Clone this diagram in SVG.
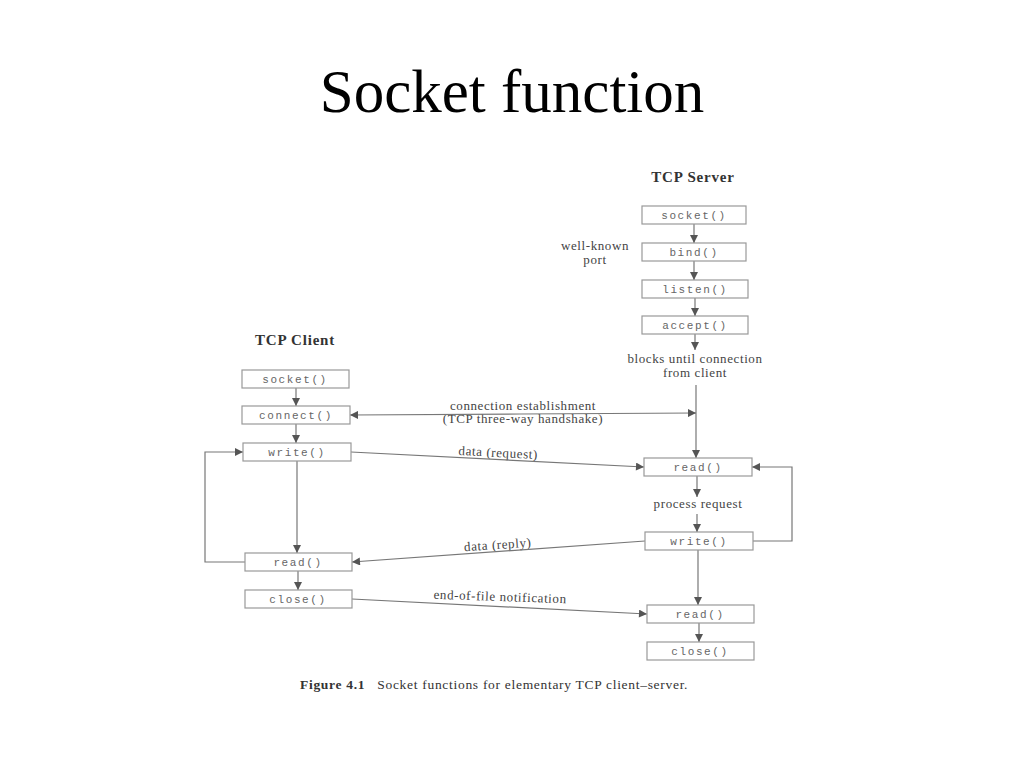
<svg xmlns="http://www.w3.org/2000/svg" width="1024" height="768" viewBox="0 0 1024 768">
<style>
.b{fill:#fff;stroke:#999;stroke-width:1.2}
.m{font-family:"Liberation Mono",monospace;font-size:11px;letter-spacing:1.6px;fill:#666;text-anchor:middle}
.s{font-family:"Liberation Serif",serif;font-size:13px;letter-spacing:0.6px;fill:#444;text-anchor:middle}
.h{font-family:"Liberation Serif",serif;font-size:15px;letter-spacing:0.8px;font-weight:bold;fill:#333;text-anchor:middle}
.c line,.c polyline{stroke:#777;stroke-width:1.2;fill:none}
</style>
<defs><marker id="a" viewBox="0 0 10 10" refX="10" refY="5" markerWidth="10" markerHeight="8" orient="auto" markerUnits="userSpaceOnUse"><path d="M0,0L10,5L0,10z" fill="#555"/></marker></defs>
<rect width="1024" height="768" fill="#fff"/>
<text x="512" y="112" font-family="Liberation Serif,serif" font-size="61" text-anchor="middle">Socket function</text>
<text class="h" x="693" y="182">TCP Server</text>
<text class="h" x="295" y="345">TCP Client</text>
<text class="s" x="595" y="250">well-known</text>
<text class="s" x="595" y="264">port</text>
<text class="s" x="695" y="363">blocks until connection</text>
<text class="s" x="695" y="377">from client</text>
<text class="s" x="523" y="410">connection establishment</text>
<text class="s" x="523" y="423">(TCP three-way handshake)</text>
<text class="s" x="498" y="457" transform="rotate(3 498 457)">data (request)</text>
<text class="s" x="498" y="549" transform="rotate(-4 498 549)">data (reply)</text>
<text class="s" x="500" y="601" transform="rotate(2 500 601)">end-of-file notification</text>
<text class="s" x="698" y="508">process request</text>
<text x="300" y="689" font-family="Liberation Serif,serif" font-size="13.5" letter-spacing="0.7" fill="#333"><tspan font-weight="bold">Figure 4.1</tspan><tspan dx="12">Socket functions for elementary TCP client–server.</tspan></text>
<g class="c">
<line x1="694" y1="224" x2="694" y2="243" marker-end="url(#a)"/>
<line x1="694" y1="261" x2="694" y2="280" marker-end="url(#a)"/>
<line x1="695" y1="298" x2="695" y2="316" marker-end="url(#a)"/>
<line x1="695" y1="334" x2="695" y2="350" marker-end="url(#a)"/>
<line x1="696" y1="385" x2="696" y2="458" marker-end="url(#a)"/>
<line x1="296" y1="388" x2="296" y2="406" marker-end="url(#a)"/>
<line x1="296" y1="424" x2="296" y2="443" marker-end="url(#a)"/>
<line x1="297" y1="461" x2="297" y2="553" marker-end="url(#a)"/>
<line x1="298" y1="571" x2="298" y2="590" marker-end="url(#a)"/>
<line x1="697" y1="476" x2="697" y2="497" marker-end="url(#a)"/>
<line x1="697" y1="514" x2="697" y2="532" marker-end="url(#a)"/>
<line x1="698" y1="550" x2="698" y2="605" marker-end="url(#a)"/>
<line x1="699" y1="623" x2="699" y2="642" marker-end="url(#a)"/>
<line x1="520" y1="414" x2="350" y2="415" marker-end="url(#a)"/>
<line x1="520" y1="414" x2="696" y2="413" marker-end="url(#a)"/>
<line x1="351" y1="452" x2="644" y2="467" marker-end="url(#a)"/>
<line x1="645" y1="541" x2="352" y2="562" marker-end="url(#a)"/>
<line x1="352" y1="599" x2="647" y2="614" marker-end="url(#a)"/>
<polyline points="245,562 205,562 205,452 243,452" marker-end="url(#a)"/>
<polyline points="753,541 792,541 792,467 752,467" marker-end="url(#a)"/>
</g>
<g id="s-socket"><rect class="b" x="642" y="206" width="104" height="18"/><text class="m" x="694" y="219">socket()</text></g>
<g id="s-bind"><rect class="b" x="642" y="243" width="104" height="18"/><text class="m" x="694" y="256">bind()</text></g>
<g id="s-listen"><rect class="b" x="642" y="280" width="106" height="18"/><text class="m" x="695" y="293">listen()</text></g>
<g id="s-accept"><rect class="b" x="642" y="316" width="106" height="18"/><text class="m" x="695" y="329">accept()</text></g>
<g id="c-socket"><rect class="b" x="242" y="370" width="107" height="18"/><text class="m" x="295" y="383">socket()</text></g>
<g id="c-connect"><rect class="b" x="242" y="406" width="108" height="18"/><text class="m" x="296" y="419">connect()</text></g>
<g id="c-write"><rect class="b" x="243" y="443" width="108" height="18"/><text class="m" x="297" y="456">write()</text></g>
<g id="c-read"><rect class="b" x="245" y="553" width="107" height="18"/><text class="m" x="298" y="566">read()</text></g>
<g id="c-close"><rect class="b" x="245" y="590" width="107" height="18"/><text class="m" x="298" y="603">close()</text></g>
<g id="s-read1"><rect class="b" x="644" y="458" width="108" height="18"/><text class="m" x="698" y="471">read()</text></g>
<g id="s-write"><rect class="b" x="645" y="532" width="108" height="18"/><text class="m" x="699" y="545">write()</text></g>
<g id="s-read2"><rect class="b" x="647" y="605" width="107" height="18"/><text class="m" x="700" y="618">read()</text></g>
<g id="s-close"><rect class="b" x="647" y="642" width="107" height="18"/><text class="m" x="700" y="655">close()</text></g>
</svg>
